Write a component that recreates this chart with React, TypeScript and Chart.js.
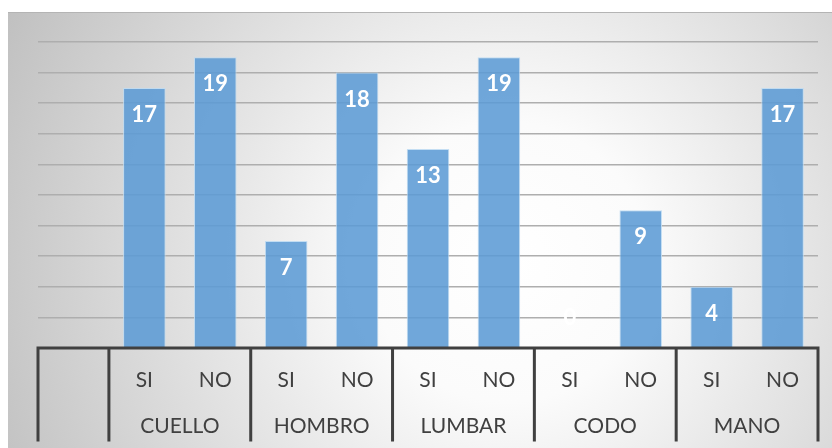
import React, { useEffect, useRef } from "react";
import { Chart, registerables } from "chart.js";

Chart.register(...registerables);

// Sub-category ticks (first slot is the empty leading column of the table axis)
const answerLabels = ["", "SI", "NO", "SI", "NO", "SI", "NO", "SI", "NO", "SI", "NO"];
// Body regions, each spanning one SI/NO pair
const regionLabels = ["CUELLO", "HOMBRO", "LUMBAR", "CODO", "MANO"];
// Counts per answer
const counts: (number | null)[] = [null, 17, 19, 7, 18, 13, 19, 0, 9, 4, 17];

const FONT = "Lato, 'Open Sans', 'DejaVu Sans', sans-serif";
const TEXT_COLOR = "#404040";
const LINE_COLOR = "#404040";

const backgroundPlugin = {
  id: "softBackground",
  beforeDraw(chart: any) {
    const { ctx, width, height } = chart;
    ctx.save();
    const g = ctx.createRadialGradient(500, 250, 0, 500, 250, 560);
    g.addColorStop(0, "#ffffff");
    g.addColorStop(0.25, "#fbfbfb");
    g.addColorStop(1, "#c0c0c0");
    ctx.fillStyle = g;
    ctx.fillRect(0, 0, width, height);
    ctx.strokeStyle = "#b4b4b4";
    ctx.lineWidth = 1;
    ctx.beginPath();
    ctx.moveTo(0, 0.5);
    ctx.lineTo(width, 0.5);
    ctx.stroke();
    ctx.restore();
  },
};

const valueLabelPlugin = {
  id: "valueLabels",
  afterDatasetsDraw(chart: any) {
    const { ctx } = chart;
    const meta = chart.getDatasetMeta(0);
    const data = chart.data.datasets[0].data as (number | null)[];
    ctx.save();
    ctx.fillStyle = "#ffffff";
    ctx.font = `bold 22px ${FONT}`;
    ctx.textAlign = "center";
    ctx.textBaseline = "middle";
    meta.data.forEach((el: any, i: number) => {
      const v = data[i];
      if (v === null || v === undefined) return;
      const y = v === 0 ? el.y - 30 : el.y + 27;
      ctx.fillText(String(v), el.x, y);
    });
    ctx.restore();
  },
};

const tableAxisPlugin = {
  id: "tableAxis",
  afterDraw(chart: any) {
    const { ctx, chartArea } = chart;
    const x = chart.scales.x;
    const n = answerLabels.length;
    const slot = (x.getPixelForValue(1) - x.getPixelForValue(0));
    const edge = (i: number) => x.getPixelForValue(i) - slot / 2;
    const top = chartArea.bottom;
    const bottom = top + 92;

    ctx.save();
    ctx.strokeStyle = LINE_COLOR;
    ctx.lineWidth = 3;
    ctx.lineCap = "square";
    ctx.beginPath();
    ctx.moveTo(edge(0), top);
    ctx.lineTo(edge(n), top);
    const dividers = [0, 1, 3, 5, 7, 9, n];
    dividers.forEach((i) => {
      ctx.moveTo(edge(i), top);
      ctx.lineTo(edge(i), bottom);
    });
    ctx.stroke();

    ctx.fillStyle = TEXT_COLOR;
    ctx.font = `21px ${FONT}`;
    ctx.textAlign = "center";
    ctx.textBaseline = "middle";
    regionLabels.forEach((label, k) => {
      const a = x.getPixelForValue(1 + 2 * k);
      const b = x.getPixelForValue(2 + 2 * k);
      ctx.fillText(label, (a + b) / 2, top + 78);
    });
    ctx.restore();
  },
};

export default function App() {
  const canvasRef = useRef<HTMLCanvasElement | null>(null);

  useEffect(() => {
    if (!canvasRef.current) return;
    const chart = new Chart(canvasRef.current, {
      type: "bar",
      data: {
        labels: answerLabels,
        datasets: [
          {
            data: counts,
            backgroundColor: "rgba(92,155,213,0.88)",
            borderColor: "rgba(190,218,242,0.9)",
            borderWidth: 1,
            barPercentage: 0.6,
            categoryPercentage: 1,
          },
        ],
      },
      options: {
        responsive: false,
        animation: false,
        events: [],
        layout: { padding: { left: 30, right: 14, top: 30, bottom: 0 } },
        plugins: {
          legend: { display: false },
          tooltip: { enabled: false },
          title: { display: false },
        },
        scales: {
          x: {
            type: "category",
            offset: true,
            grid: { display: false, drawTicks: false },
            border: { display: false },
            ticks: {
              color: TEXT_COLOR,
              font: { family: FONT, size: 21 },
              padding: 20,
              maxRotation: 0,
              autoSkip: false,
            },
            afterFit: (scale: any) => {
              scale.height = 100;
            },
          },
          y: {
            min: 0,
            max: 20,
            ticks: { display: false, stepSize: 2 },
            border: { display: false },
            grid: { color: "#aeaeae", lineWidth: 1.5, drawTicks: false },
            afterFit: (scale: any) => {
              scale.width = 0;
            },
          },
        },
      },
      plugins: [backgroundPlugin, valueLabelPlugin, tableAxisPlugin],
    });
    return () => chart.destroy();
  }, []);

  return (
    <canvas
      ref={canvasRef}
      width={824}
      height={436}
      style={{ position: "fixed", left: 8, top: 12, width: 824, height: 436 }}
    />
  );
}
